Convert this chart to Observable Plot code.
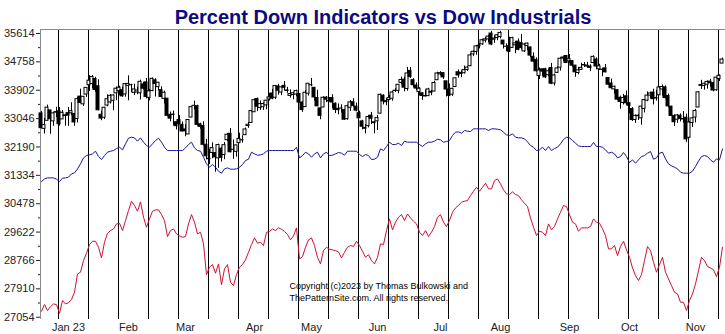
<!DOCTYPE html>
<html><head><meta charset="utf-8">
<script src="https://cdn.jsdelivr.net/npm/d3@7"></script>
<script src="https://cdn.jsdelivr.net/npm/@observablehq/plot@0.6"></script>
<style>html,body{margin:0;padding:0;background:#fff;} #chart svg{display:block}</style>
</head><body><div id="chart"></div>
<script>
const title = "Percent Down Indicators vs Dow Industrials";
const copyright = "Copyright (c)2023 by Thomas Bulkowski and\nThePatternSite.com. All rights reserved.";
const yTicks = [27054, 27910, 28766, 29622, 30478, 31334, 32190, 33046, 33902, 34758, 35614];
const monthNames = ["Jan 23", "Feb", "Mar", "Apr", "May", "Jun", "Jul", "Aug", "Sep", "Oct", "Nov"];
// trading-day index of first session of each month (day 0 = 19 Dec 2022)
const monthStart = [9, 29, 48, 71, 90, 112, 133, 153, 176, 196, 218];
// vertical grid lines every 10 sessions
const gridDays = [6, 16, 26, 36, 46, 56, 66, 76, 86, 96, 106, 116, 126, 136, 146, 156, 166, 176, 186, 196, 206, 216, 226];

const open = [
33202,32736,32980,33293,32961,33224,33265,33021,33121,
33210,33206,33186,33035,33710,33477,33771,34053,34089,34239,34020,33161,33072,33439,33533,33583,33809,33876,33904,33776,
34032,34056,33822,33834,33808,34077,34139,33672,33876,34201,33993,33904,33643,33647,33156,33166,32936,33002,32859,
32719,32567,33079,33430,33419,32873,32821,32257,31839,32010,32005,31847,32138,31950,32394,32587,32104,32043,32305,32387,32546,32820,32915,
33238,33635,33362,33390,33445,33621,33803,33675,34018,33832,34034,33876,33730,33757,33772,33786,33531,33393,33797,
34052,33975,33669,33354,33380,33679,33577,33665,33494,33341,33348,33301,33029,33373,33540,33407,33207,32961,32739,32817,33135,32933,
32964,33195,33737,33541,33607,33643,33886,33883,34125,34221,33938,34485,34204,34044,33846,33809,33728,33723,33826,33862,34204,
34379,34416,34170,33923,33767,33999,34445,34425,34415,34511,34627,34982,35057,35245,35285,35396,35434,35612,35425,35478,
35507,35400,35212,35229,35179,35256,35369,35328,35073,35238,35194,34911,34818,34334,34531,34536,34355,34572,34106,34426,34582,34857,34935,
34774,34780,34645,34421,34515,34649,34615,34618,34723,34829,34532,34523,34562,34271,34105,33927,33903,33673,33516,33718,
33509,33336,33005,33130,33054,33337,33587,33740,33831,33652,33749,33924,33989,33728,33408,33120,33012,33131,33019,33073,32469,32915,
33077,33381,34034,34028,34068,34159,34115,33901,34238,34706];

const high = [
33262,33050,33454,33293,33226,33387,33379,33293,33152,
33382,33525,33196,33693,33934,33705,33973,34343,34347,34292,34217,33268,33379,33758,33772,33765,33999,34021,33997,34090,
34334,34082,34084,33996,34206,34137,34259,33929,34273,34248,34139,34005,33875,33647,33245,33274,32942,33137,32945,
32860,33022,33408,33573,33449,32906,32950,32420,32120,32315,32018,32275,32180,32323,32599,32746,32402,32238,32607,32528,32761,32934,33275,
33633,33665,33579,33517,33592,33807,33925,34033,34082,33994,34163,33988,33913,33838,33906,33801,33561,33891,34104,
34257,33975,33900,33367,33702,33712,33682,33767,33523,33489,33463,33307,33454,33593,33647,33512,33269,32995,32865,33136,33232,32964,
33144,33786,33766,33652,33745,33864,33948,34067,34300,34299,34589,34589,34251,34125,33978,33831,33909,33960,33902,34175,34445,
34462,34424,34170,34091,33963,34262,34513,34485,34631,34617,35005,35086,35239,35314,35436,35491,35547,35679,35540,35569,
35679,35400,35302,35503,35502,35375,35449,35580,35311,35326,35194,35031,34880,34574,34531,34567,34534,34711,34391,34604,34876,34900,34935,
34979,34782,34645,34589,34717,34739,34743,34671,34940,34879,34685,34551,34679,34271,34237,34026,33913,33726,33777,33878,
33516,33376,33155,33175,33420,33616,33851,33844,33931,33902,34016,34061,34035,33785,33408,33160,33171,33188,33257,33179,32950,33072,
33325,33847,34201,34104,34184,34230,34141,34291,34365,34870];

const low = [
32757,32581,32980,32574,32813,33080,32819,33021,32819,
32812,33130,32813,32912,33497,33414,33685,33864,33950,33836,33282,32983,33017,33405,33486,33286,33587,33744,33690,33692,
33583,33836,33743,33765,33607,33913,33640,33578,33859,33698,33883,33682,33487,33105,32949,32834,32705,32855,32650,
32501,32567,33075,33309,32820,32726,32218,31804,31659,31835,31429,31546,31734,31805,32353,32015,31817,31883,32305,32306,32546,32752,32915,
33238,33257,33292,33295,33314,33573,33617,33622,33754,33739,33882,33808,33665,33615,33705,33521,33235,33393,33726,
34009,33570,33412,33011,33380,33527,33554,33353,33198,33161,33215,33007,32997,33262,33385,33248,33055,32706,32586,32765,32872,32586,
32687,33195,33460,33436,33585,33573,33834,33797,34064,33854,33873,34260,33974,33891,33736,33596,33703,33720,33736,33856,34204,
34336,34228,33698,33706,33717,33982,34266,34280,34391,34471,34619,34915,34960,35147,35259,35329,35335,35246,35318,35395,
35449,35145,35074,35041,35179,35005,35092,35119,35039,35094,34886,34742,34452,34225,34320,34252,34313,34071,34029,34406,34480,34760,34710,
34701,34593,34292,34366,34496,34588,34566,34464,34702,34518,34502,34309,34429,34042,33934,33784,33597,33330,33456,33449,
33194,32961,32901,32990,32847,33217,33556,33637,33459,33573,33749,33723,33631,33367,33127,32805,32904,32942,32902,32327,32456,32778,
32916,33381,33926,33903,33935,33991,33855,33873,34163,34706];

const close = [
32757,32850,33376,33027,33204,33242,32876,33221,33147,
33136,33270,32930,33631,33518,33704,33973,34190,34303,33910,33297,33045,33375,33630,33734,33744,33949,33978,33717,34086,
34093,34054,33926,33891,34156,33949,33699,33869,34246,34089,34128,33697,33827,33130,33045,33154,32817,32889,32657,
32662,33004,33391,33432,32856,32798,32255,31910,31820,32155,31875,32247,31862,32245,32560,32030,32105,32238,32433,32395,32718,32860,33274,
33601,33403,33483,33486,33587,33685,33647,34030,33887,33988,33977,33897,33787,33809,33876,33531,33302,33827,34098,
34051,33684,33415,33128,33675,33619,33562,33531,33310,33301,33349,33012,33420,33536,33427,33287,33056,32800,32765,33093,33042,32908,
33061,33763,33563,33573,33665,33834,33877,34066,34212,33979,34408,34299,34053,33952,33947,33727,33714,33927,33853,34122,34408,
34418,34288,33922,33734,33945,34262,34347,34395,34509,34586,34952,35061,35225,35228,35411,35438,35520,35282,35459,35560,
35630,35283,35216,35066,35474,35314,35124,35176,35281,35308,34946,34766,34475,34500,34464,34289,34473,34099,34347,34560,34853,34890,34722,
34838,34642,34443,34501,34577,34664,34646,34576,34908,34618,34624,34518,34441,34070,33964,34007,33619,33551,33667,33508,
33433,33002,33129,33120,33408,33605,33740,33804,33631,33670,33985,33998,33665,33415,33127,32936,33141,33036,33035,32418,32929,33053,
33275,33839,34061,34096,34153,34112,33892,34283,34337,34828];

// percent-down indicators, plotted on the price scale
const blueLine = [
31147,31227,31258,31258,31258,31217,31147,31248,31258,31278,
31378,31409,31529,31680,31861,31932,31952,31982,32062,31902,
31811,31932,32032,32062,32083,32143,32183,32103,32284,32455,
32485,32465,32364,32465,32334,32234,32183,32284,32384,32455,
32334,32183,32083,32083,32083,32083,32083,32083,32163,32264,
32334,32163,32083,32062,31881,31680,31580,31660,31580,31459,
31399,31529,31559,31519,31519,31529,31580,31660,31781,31821,
32032,31982,31942,31952,31982,32062,32083,32083,32083,32083,
32083,32083,32083,32083,32083,32183,31861,31932,32032,31982,
31881,31982,32032,31861,31982,32032,31932,31942,31982,32022,
32002,31942,32062,32062,32062,32062,31962,31902,31962,31932,
31811,31821,31881,32133,32083,32203,32334,32264,32264,32304,
32234,32364,32334,32334,32334,32334,32264,32203,32284,32334,
32334,32364,32425,32405,32334,32354,32384,32535,32636,32646,
32606,32686,32666,32656,32737,32737,32737,32737,32737,32686,
32737,32737,32726,32706,32636,32555,32535,32586,32485,32465,
32465,32435,32344,32234,32183,32083,32103,32183,32083,32203,
32083,32143,32183,32284,32415,32485,32465,32384,32304,32223,
32203,32203,32203,32203,32324,32203,32203,32183,32103,32002,
32032,31982,31861,31902,32022,31902,31720,31801,31700,31801,
31902,31932,32002,32052,31821,31861,32002,32032,31831,31680,
31620,31580,31529,31429,31399,31399,31399,31459,31600,31761,
31902,31932,31902,31801,31730,31831,31801,32133];

const redLine = [
27234,27435,27254,27375,27455,27435,27173,27556,27455,27495,
27586,27807,28360,28411,28763,28984,29246,29346,29346,29165,
28843,29316,29588,29668,29718,29869,29890,29668,29970,30272,
30553,30423,30252,30533,30071,29769,30020,30252,30292,30292,
30151,29970,29487,29668,29718,29568,29507,29467,29487,29869,
30151,29920,29568,29618,29266,28340,28562,28642,28381,28662,
28038,28511,28642,28109,28008,28340,28562,28642,28783,29014,
29246,29447,29286,29316,29216,29618,29638,29718,29668,29749,
29708,29638,29547,29387,29507,29749,28813,28884,29165,29387,
29447,29216,28863,28662,29065,29165,29105,29085,29065,29024,
28843,29014,29165,29216,29185,29346,29216,29044,28863,28944,
28763,28662,28863,29266,29246,29668,30020,29688,29920,30071,
30151,29970,30171,30050,29950,29869,29618,29517,29668,29487,
29618,29789,30071,30151,29920,29789,29970,30221,30352,30423,
30523,30553,30574,30724,30855,30976,30855,30976,31097,30926,
30926,31177,31227,31077,30896,30775,30755,30835,30755,30724,
30594,30493,30393,30050,29769,29517,29648,29618,29517,29869,
29688,29789,30020,30221,30423,30393,30151,29920,29869,29648,
29749,29749,29749,29789,30020,29920,29890,29718,29517,29115,
29115,29216,28914,29185,29346,29085,28863,28541,28310,28159,
28340,28763,29185,29065,28712,28411,28642,28863,28411,28209,
28008,27807,27757,27505,27505,27254,27556,27757,28059,28461,
28863,28763,28582,28541,28481,28280,28562,29165];

const bars = close.map((c, i) => ({i, o: open[i], h: high[i], l: low[i], c}));
const minorTicks = yTicks.slice(1).map((t, k) => (t + yTicks[k]) / 2);
const xDomain = [-1 / 3, 228];
const yDomain = [26985, 35734];

const chart = Plot.plot({
  width: 725,
  height: 334,
  marginLeft: 40,
  marginRight: 0,
  marginTop: 29,
  marginBottom: 15,
  style: {fontFamily: "'Liberation Sans', Arial, sans-serif", background: "#fff", color: "#222"},
  x: {domain: xDomain, axis: null},
  y: {domain: yDomain, axis: null},
  marks: [
    Plot.ruleX(gridDays, {x: d => d, dx: -1, stroke: "#000"}),
    Plot.ruleY([yDomain[1]], {stroke: "#8a8a8a"}),
    Plot.ruleX([xDomain[0]], {stroke: "#8a8a8a"}),
    Plot.line(redLine, {x: (d, i) => i, y: d => d, stroke: "#cc1133", strokeWidth: 1}),
    Plot.line(blueLine, {x: (d, i) => i, y: d => d, stroke: "#16169e", strokeWidth: 1}),
    Plot.ruleX(bars, {x: "i", y1: "l", y2: "h", stroke: "#000"}),
    Plot.rect(bars, {
      x1: d => d.i - 2 / 3, x2: d => d.i + 1 / 3, y1: "o", y2: "c",
      fill: d => d.c >= d.o ? "#fff" : "#000", stroke: "#000", strokeWidth: 1
    }),
    Plot.axisY({ticks: yTicks, tickFormat: "d", tickSize: 4, tickPadding: 2, fontSize: 11}),
    Plot.axisY({ticks: minorTicks, tickFormat: () => "", tickSize: 2}),
    Plot.text(monthStart, {x: d => d, frameAnchor: "bottom", dy: 8, lineAnchor: "middle", text: (d, i) => monthNames[i], fontSize: 11, fill: "#222"}),
    Plot.text([title], {frameAnchor: "top", dy: -6, lineAnchor: "bottom", fontSize: 20, fontWeight: "bold", fill: "#0b0b80"}),
    Plot.text([copyright], {frameAnchor: "bottom-left", dx: 249, dy: -19, textAnchor: "start", lineAnchor: "bottom", fontSize: 9, lineHeight: 1.25, fill: "#000"})
  ]
});
document.getElementById("chart").appendChild(chart);
</script>
</body></html>
